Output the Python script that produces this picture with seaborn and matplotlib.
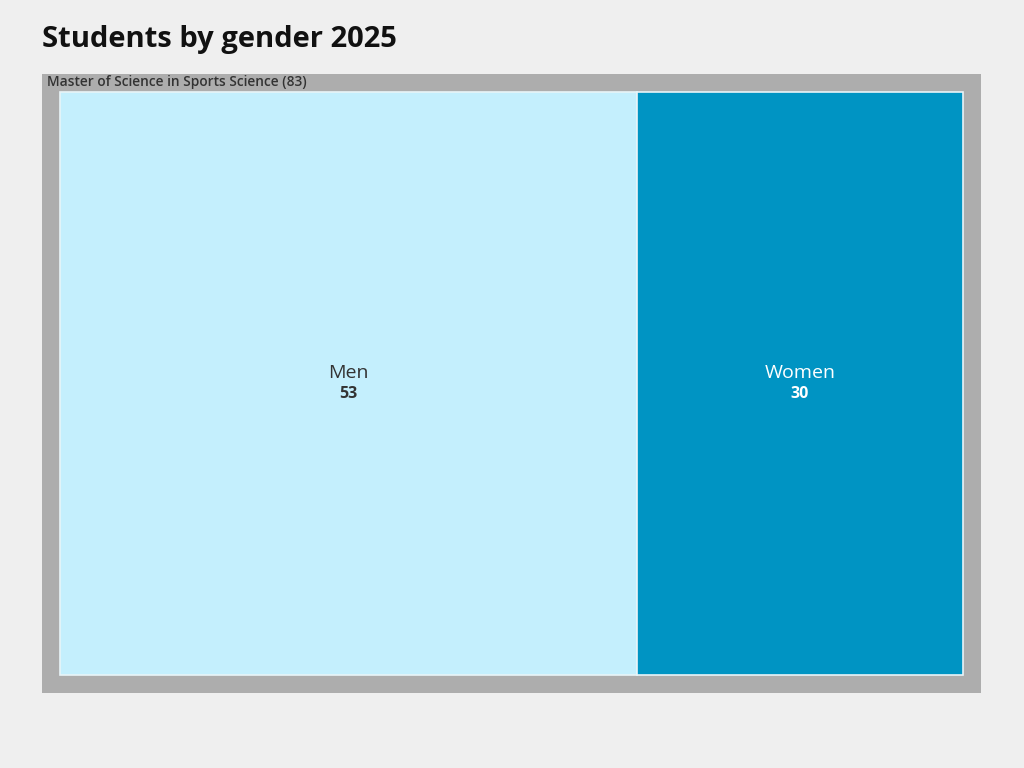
import matplotlib
matplotlib.use("Agg")
import matplotlib.pyplot as plt
from matplotlib.patches import Rectangle
import seaborn as sns

title = "Students by gender 2025"
parent_label = "Master of Science in Sports Science"
genders = ["Men", "Women"]
counts = [53, 30]
fill_colors = ["#c4effd", "#0094c3"]
text_colors = ["#333333", "#ffffff"]

sns.set_theme(style="white")
plt.rcParams["font.family"] = ["Open Sans", "DejaVu Sans"]

fig = plt.figure(figsize=(10.24, 7.68), dpi=100, facecolor="#efefef")
ax = fig.add_axes([0, 0, 1, 1])
ax.set_xlim(0, 1024)
ax.set_ylim(768, 0)
ax.axis("off")
ax.set_facecolor("#efefef")

# parent box
px0, py0, px1, py1 = 42, 74, 981, 693
ax.add_patch(Rectangle((px0, py0), px1 - px0, py1 - py0, color="#adadad", lw=0))
ax.text(px0 + 5, py0 + 8, f"{parent_label} ({sum(counts)})", fontsize=9.9,
        fontweight="semibold", color="#333333", va="center", ha="left")

# children, sliced horizontally by value
cx0, cy0, cx1, cy1 = 60, 92, 963, 675
total = sum(counts)
x = cx0
for g, n, fc, tc in zip(genders, counts, fill_colors, text_colors):
    w = (cx1 - cx0) * n / total
    ax.add_patch(Rectangle((x, cy0), w, cy1 - cy0, facecolor=fc,
                           edgecolor="#e8f4f8", lw=1.2))
    mx = x + w / 2
    ax.text(mx, 373, g, fontsize=14, color=tc, ha="center", va="center")
    ax.text(mx, 394, str(n), fontsize=11.5, fontweight="bold", color=tc,
            ha="center", va="center")
    x += w

fig.text(42 / 1024, 1 - 39 / 768, title, fontsize=21, fontweight="bold",
         color="#111111", ha="left", va="center")

fig.savefig("out.png", dpi=100, facecolor=fig.get_facecolor())
